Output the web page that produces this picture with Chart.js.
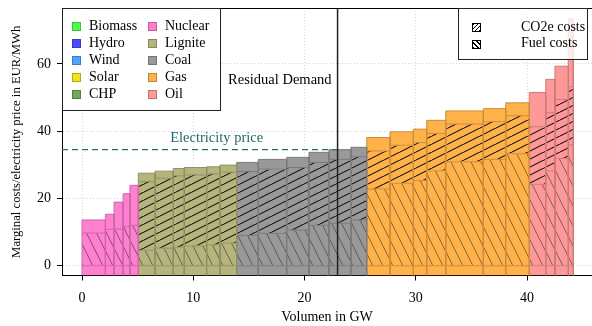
<!DOCTYPE html>
<html>
<head>
<meta charset="utf-8">
<script src="https://cdn.jsdelivr.net/npm/chart.js@4"></script>
<style>
  html, body { margin: 0; padding: 0; background: #fff; }
  #wrap { position: relative; width: 592px; height: 326px; font-family: "Liberation Serif", serif; }
  .legend { position: absolute; border: 1px solid #222; background: rgba(255,255,255,0.8); box-sizing: border-box; }
  .item { position: absolute; font-size: 14px; line-height: 16px; white-space: nowrap; color: #000; }
  .sw { position: absolute; width: 9px; height: 9px; box-sizing: border-box; border: 1px solid; }
</style>
</head>
<body>
<div id="wrap">
  <canvas id="chart" width="592" height="326"></canvas>
  <div class="legend" id="techLegend" style="left:62px;top:8px;width:159px;height:103px"></div>
  <div class="legend" id="costLegend" style="left:458px;top:8px;width:130px;height:52px"></div>
</div>
<script>
// Merit order data
const techNames = ['Biomass', 'Hydro', 'Wind', 'Solar', 'CHP', 'Nuclear', 'Lignite', 'Coal', 'Gas', 'Oil'];

const barTech = [
    'Nuclear', 'Nuclear', 'Nuclear', 'Nuclear', 'Nuclear',
    'Lignite', 'Lignite', 'Lignite', 'Lignite', 'Lignite', 'Lignite',
    'Coal', 'Coal', 'Coal', 'Coal', 'Coal', 'Coal',
    'Gas', 'Gas', 'Gas', 'Gas', 'Gas', 'Gas', 'Gas',
    'Oil', 'Oil', 'Oil', 'Oil'
];
const capacityGW = [
    2.10, 0.78, 0.81, 0.62, 0.75,
    1.50, 1.64, 0.99, 2.01, 1.20, 1.50,
    1.94, 2.55, 2.01, 1.79, 1.98, 1.42,
    2.09, 2.10, 1.20, 1.71, 3.38, 2.01, 2.12,
    1.48, 0.83, 1.20, 0.45
];
const fuelCost = [
    9.7, 10.8, 10.9, 11.6, 12.0,
    4.6, 5.2, 5.5, 5.9, 6.2, 6.7,
    9.0, 9.6, 10.6, 12.0, 12.6, 13.6,
    22.8, 24.5, 25.3, 28.2, 30.9, 31.6, 33.3,
    24.2, 28.2, 31.9, 35.9
];
const co2Cost = [
    0, 0, 0, 0, 0,
    20.4, 20.8, 21.2, 21.1, 21.1, 21.1,
    19.0, 19.1, 18.6, 18.7, 19.0, 18.8,
    11.3, 11.3, 11.3, 11.1, 11.2, 11.2, 11.3,
    17.1, 17.3, 17.5, 17.3
];
const otherCost = [
    3.9, 4.5, 8.0, 9.8, 11.9,
    2.5, 2.1, 2.2, 2.2, 2.1, 2.1,
    2.7, 2.9, 3.0, 3.0, 2.9, 2.8,
    4.0, 4.0, 4.0, 3.9, 3.9, 3.9, 3.8,
    10.2, 9.9, 9.9, 20.2
];
const residualDemand = 22.97;   // GW
const electricityPrice = 34.5;  // EUR/MWh
const xTicks = [0, 10, 20, 30, 40];
const yTicks = [0, 20, 40, 60];

// Styles
const techColors = {
    Biomass: '#4dff4d', Hydro: '#4d4dff', Wind: '#4da6ff', Solar: '#f0e31e', CHP: '#72a85a',
    Nuclear: '#ff80d0', Lignite: '#b4b47c', Coal: '#999999', Gas: '#ffb24a', Oil: '#ff9999'
};
const FONT = '"Liberation Serif", serif';
const xMin = -1.8, xMax = 45.84, yMin = -2.91, yMax = 76.6;

function darken(hex, f) {
    const n = parseInt(hex.slice(1), 16);
    const r = Math.round(((n >> 16) & 255) * f);
    const g = Math.round(((n >> 8) & 255) * f);
    const b = Math.round((n & 255) * f);
    return `rgb(${r},${g},${b})`;
}

function hatch(color, kind) {
    const c = document.createElement('canvas');
    const w = kind === 'fuel' ? 10 : 16;
    const h = kind === 'fuel' ? 20 : 8;
    c.width = w; c.height = h;
    const g = c.getContext('2d');
    g.fillStyle = color;
    g.fillRect(0, 0, w, h);
    g.strokeStyle = kind === 'fuel' ? 'rgba(40,40,40,0.7)' : '#111';
    g.lineWidth = kind === 'fuel' ? 0.8 : 1.1;
    for (const dx of [-w, 0, w]) {
        g.beginPath();
        if (kind === 'fuel') { g.moveTo(dx, 0); g.lineTo(dx + w, h); }
        else { g.moveTo(dx, h); g.lineTo(dx + w, 0); }
        g.stroke();
    }
    return g.createPattern(c, 'repeat');
}

function segment(x0, x1, lo, hi, bg, border) {
    return {
        data: [{x: x0, y: lo}, {x: x0, y: hi}, {x: x1, y: hi}, {x: x1, y: lo}],
        showLine: true,
        fill: {value: lo},
        backgroundColor: bg,
        borderColor: border,
        borderWidth: 1,
        pointRadius: 0,
        tension: 0
    };
}

// Lines on top first (dataset 0 is drawn last)
const datasets = [
    {
        data: [{x: residualDemand, y: yMin}, {x: residualDemand, y: yMax}],
        showLine: true, borderColor: '#222', borderWidth: 1.5, pointRadius: 0, fill: false
    },
    {
        data: [{x: xMin, y: electricityPrice}, {x: residualDemand, y: electricityPrice}],
        showLine: true, borderColor: '#26706f', borderWidth: 1.3, borderDash: [6, 4], pointRadius: 0, fill: false
    }
];

let left = 0;
barTech.forEach((tech, i) => {
    const right = left + capacityGW[i];
    const color = techColors[tech];
    const border = darken(color, 0.8);
    const fuelTop = fuelCost[i];
    const co2Top = fuelTop + co2Cost[i];
    const top = co2Top + otherCost[i];
    datasets.push(segment(left, right, yMin, 0, color, border));
    datasets.push(segment(left, right, 0, fuelTop, hatch(color, 'fuel'), border));
    if (co2Cost[i] > 0) {
        datasets.push(segment(left, right, fuelTop, co2Top, hatch(color, 'co2'), border));
    }
    datasets.push(segment(left, right, co2Top, top, color, border));
    left = right;
});

const annotations = {
    id: 'annotations',
    afterDatasetsDraw(chart) {
        const {ctx, chartArea, scales: {x, y}} = chart;
        ctx.save();
        ctx.strokeStyle = '#000';
        ctx.lineWidth = 1;
        ctx.beginPath();
        ctx.moveTo(chartArea.left, chartArea.top + 0.5);
        ctx.lineTo(chartArea.right, chartArea.top + 0.5);
        ctx.stroke();

        ctx.font = '14.5px ' + FONT;
        ctx.textBaseline = 'middle';
        ctx.fillStyle = '#000';
        ctx.textAlign = 'right';
        ctx.fillText('Residual Demand', x.getPixelForValue(residualDemand) - 6, y.getPixelForValue(55.2));
        ctx.fillStyle = '#22696a';
        ctx.textAlign = 'center';
        ctx.fillText('Electricity price', x.getPixelForValue(12.1), y.getPixelForValue(37.9));
        ctx.restore();
    }
};

const ctx = document.getElementById('chart').getContext('2d');
new Chart(ctx, {
    type: 'scatter',
    data: {datasets: datasets},
    options: {
        responsive: false,
        animation: false,
        layout: {padding: {top: 8, right: 0, left: 0, bottom: 0}},
        plugins: {legend: {display: false}, tooltip: {enabled: false}},
        scales: {
            x: {
                type: 'linear', min: xMin, max: xMax,
                afterFit: s => { s.height = 50.5; s.paddingLeft = 0; s.paddingRight = 0; },
                afterBuildTicks: s => { s.ticks = xTicks.map(v => ({value: v})); },
                ticks: {color: '#000', font: {family: FONT, size: 14}, padding: 9, maxRotation: 0},
                grid: {color: '#c8c8c8', lineWidth: 0.8, tickColor: '#000', tickLength: 5, tickWidth: 1, tickBorderDash: []},
                border: {color: '#000', width: 1, dash: [1, 2]},
                title: {display: true, text: 'Volumen in GW', color: '#000', font: {family: FONT, size: 14}, padding: {top: 0, bottom: 0}}
            },
            y: {
                min: yMin, max: yMax,
                afterFit: s => { s.width = 62; s.paddingTop = 0; s.paddingBottom = 0; },
                afterBuildTicks: s => { s.ticks = yTicks.map(v => ({value: v})); },
                ticks: {color: '#000', font: {family: FONT, size: 14}, padding: 6},
                grid: {color: '#c8c8c8', lineWidth: 0.8, tickColor: '#000', tickLength: 5, tickWidth: 1, tickBorderDash: []},
                border: {color: '#000', width: 1, dash: [1, 2]},
                title: {display: true, text: 'Marginal costs/electricity price in EUR/MWh', color: '#000', font: {family: FONT, size: 12.7}, padding: {top: 9, bottom: 0}}
            }
        }
    },
    plugins: [annotations]
});

// Legends
const techLegend = document.getElementById('techLegend');
techNames.forEach((name, i) => {
    const col = Math.floor(i / 5);
    const row = i % 5;
    const cy = 18 + row * 17;
    const sw = document.createElement('div');
    sw.className = 'sw';
    sw.style.left = (9 + col * 76) + 'px';
    sw.style.top = (cy - 5) + 'px';
    sw.style.background = techColors[name];
    sw.style.borderColor = darken(techColors[name], 0.75);
    techLegend.appendChild(sw);
    const t = document.createElement('div');
    t.className = 'item';
    t.textContent = name;
    t.style.left = (26 + col * 76) + 'px';
    t.style.top = (cy - 9) + 'px';
    techLegend.appendChild(t);
});

const costLegend = document.getElementById('costLegend');
[['CO2e costs', 'co2'], ['Fuel costs', 'fuel']].forEach(([label, kind], i) => {
    const cy = 18.5 + i * 16.7;
    const sw = document.createElement('div');
    sw.className = 'sw';
    sw.style.left = '13px';
    sw.style.top = (cy - 4.5) + 'px';
    sw.style.borderColor = '#000';
    sw.style.background = kind === 'co2'
        ? 'repeating-linear-gradient(135deg, #000 0 1px, #fff 1px 3px)'
        : 'repeating-linear-gradient(45deg, #000 0 1px, #fff 1px 3.5px)';
    costLegend.appendChild(sw);
    const t = document.createElement('div');
    t.className = 'item';
    t.textContent = label;
    t.style.left = '62px';
    t.style.top = (cy - 9) + 'px';
    costLegend.appendChild(t);
});
</script>
</body>
</html>
